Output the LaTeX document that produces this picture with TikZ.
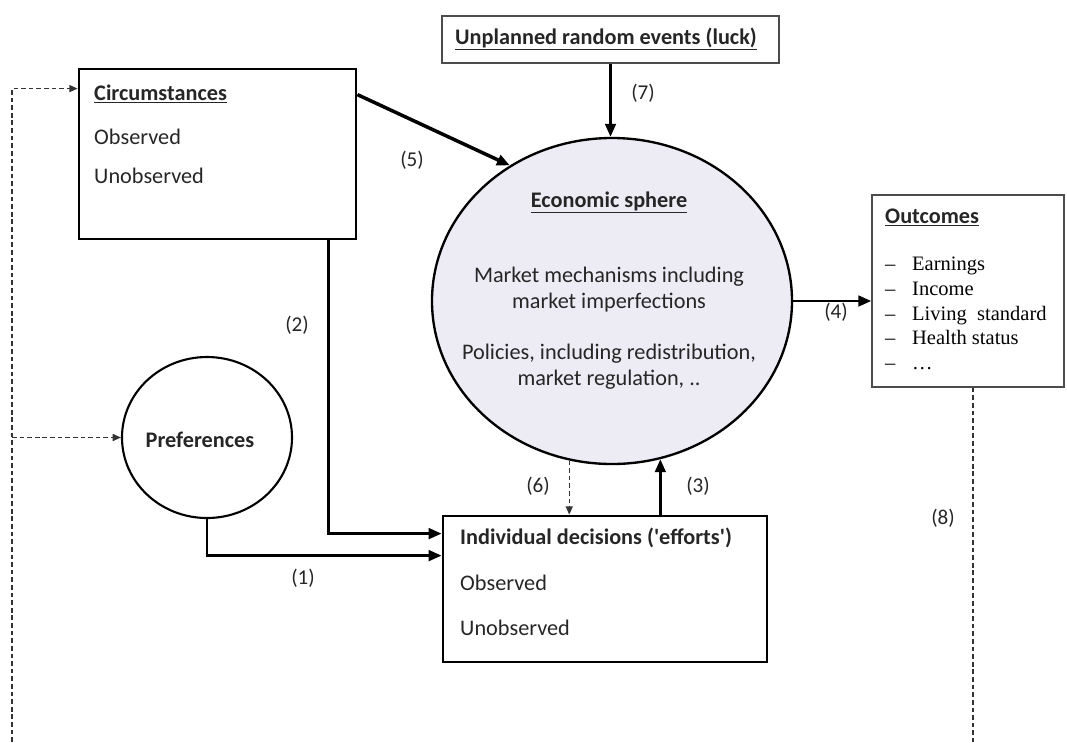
\documentclass[tikz,border=0pt]{standalone}
\usepackage{fontspec}
\setmainfont{Carlito}
\newfontfamily\itemfont{Liberation Serif}
\usetikzlibrary{arrows.meta,shapes.geometric,calc}
\definecolor{econfill}{RGB}{237,236,245}

\begin{document}
\begin{tikzpicture}[x=0.03cm,y=-0.03cm,
        boxnode/.style={draw, line width=2.4pt, inner sep=0},
        thinbox/.style={draw=black!70, line width=1.2pt, inner sep=0},
        txt/.style={anchor=base west, inner sep=0, text=black!85, font=\fontsize{19}{23}\selectfont},
        ctxt/.style={anchor=base, inner sep=0, text=black!85, font=\fontsize{19}{23}\selectfont},
        itm/.style={anchor=base west, inner sep=0, font=\itemfont\fontsize{17.5}{21}\selectfont},
        num/.style={anchor=base, inner sep=0, text=black!85, font=\fontsize{18}{21}\selectfont},
        flow/.style={line width=2.4pt, -{Triangle[length=11pt,width=9pt]}},
        feedback/.style={draw=black!80, line width=1.1pt, dash pattern=on 4pt off 2.5pt, -{Triangle[length=7pt,width=6pt]}}]
    \useasboundingbox (0,0) rectangle (1067,742);

    \node[thinbox, minimum width=10.11cm, minimum height=1.41cm] (luck) at (610.5,39.5) {};
    \node[ctxt] at (606,44) {\textbf{\underline{Unplanned random events (luck)}}};

    \node[boxnode, minimum width=8.31cm, minimum height=5.1cm] (circ) at (217.5,154) {};
    \node[txt] at (94,100) {\textbf{\underline{Circumstances}}};
    \node[txt] at (94,144) {Observed};
    \node[txt] at (94,183) {Unobserved};

    \node[ellipse, draw, line width=2pt, fill=econfill, minimum width=10.8cm, minimum height=9.78cm, inner sep=0] (econ) at (612,301) {};
    \node[ctxt] at (609,207) {\textbf{\underline{Economic sphere}}};
    \node[ctxt] at (609,282) {Market mechanisms including};
    \node[ctxt] at (609,308) {market imperfections};
    \node[ctxt] at (609,359) {Policies, including redistribution,};
    \node[ctxt] at (609,385) {market regulation, ..};

    \node[ellipse, draw, line width=1.8pt, minimum width=5.1cm, minimum height=4.83cm, inner sep=0] (pref) at (207,437.5) {};
    \node[ctxt] at (200,447) {\textbf{Preferences}};

    \node[boxnode, minimum width=9.72cm, minimum height=4.38cm] (indiv) at (605,589) {};
    \node[txt] at (460,544) {\textbf{Individual decisions (\textquotesingle efforts\textquotesingle)}};
    \node[txt] at (460,590) {Observed};
    \node[txt] at (460,635) {Unobserved};

    \node[thinbox, minimum width=5.76cm, minimum height=5.76cm] (outc) at (968,291) {};
    \node[txt] at (885,223) {\textbf{\underline{Outcomes}}};
    \node[itm] at (885,270) {\makebox[23pt][l]{–}Earnings};
    \node[itm] at (885,295) {\makebox[23pt][l]{–}Income};
    \node[itm] at (885,320) {\makebox[23pt][l]{–}Living\ \ standard};
    \node[itm] at (885,344) {\makebox[23pt][l]{–}Health\ status};
    \node[itm] at (885,369) {\makebox[23pt][l]{–}\dots};

    % main flows
    \draw[flow, line width=3pt] (circ.23.8) -- (econ.127.7);
    \draw[flow] (luck.south) -- (luck.south |- econ.north);
    \draw[flow] (econ.east) -- (econ.east -| outc.west);
    \draw[flow] ($(circ.south east)+(-29,0)$) |- ($(indiv.north west)+(0,19)$);
    \draw[flow] (pref.south) |- ($(indiv.north west)+(0,41)$);
    \draw[flow] (econ.287.7 |- indiv.north) -- (econ.287.7);
    \draw[feedback] (econ.255.2) -- (econ.255.2 |- indiv.north);

    % feedback over generations
    \coordinate (fbl) at (12,742);
    \coordinate (fbr) at (973,742);
    \draw[feedback] (fbl) |- ($(circ.north west)+(0,21)$);
    \draw[feedback] (fbl |- pref.west) -- (pref.west);
    \draw[feedback, -] (fbr |- outc.south) -- (fbr);

    \node[num] at (412,166) {(5)};
    \node[num] at (643,99) {(7)};
    \node[num] at (297,331) {(2)};
    \node[num] at (303,584) {(1)};
    \node[num] at (538,492) {(6)};
    \node[num] at (698,492) {(3)};
    \node[num] at (836,318) {(4)};
    \node[num] at (943,524) {(8)};
\end{tikzpicture}
\end{document}
